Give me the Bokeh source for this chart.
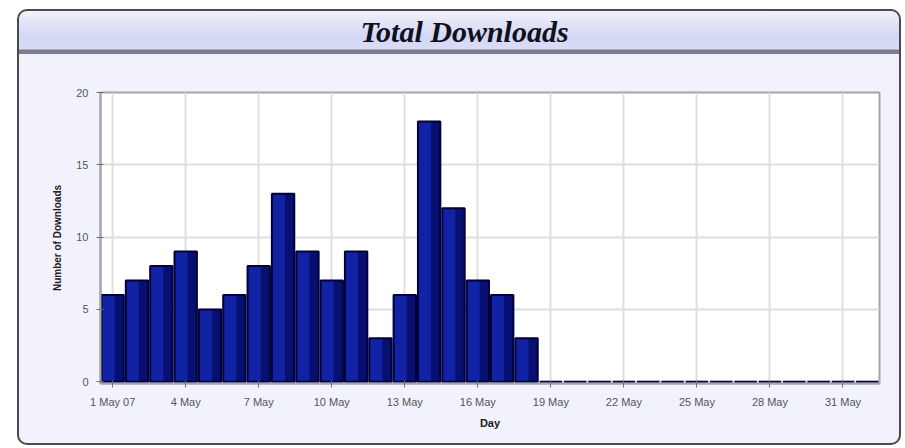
from bokeh.plotting import figure
from bokeh.models import FixedTicker, Range1d, Title, ColumnDataSource
from bokeh.transform import dodge
from bokeh.embed import file_html
from bokeh.resources import INLINE

# ---- data ----
days = list(range(1, 33))  # 1 May 07 .. 1 Jun 07
downloads = [6, 7, 8, 9, 5, 6, 8, 13, 9, 7, 9, 3, 6, 18, 12, 7, 6, 3,
             0, 0, 0, 0, 0, 0, 0, 0, 0, 0, 0, 0, 0, 0]
tick_days = [1, 4, 7, 10, 13, 16, 19, 22, 25, 28, 31]
tick_labels = ["1 May 07", "4 May", "7 May", "10 May", "13 May", "16 May",
               "19 May", "22 May", "25 May", "28 May", "31 May"]
y_ticks = [0, 5, 10, 15, 20]

source = ColumnDataSource(data=dict(day=days, downloads=downloads))

band = ("linear-gradient(to bottom, #f3f3fa 0px, #e2e4f7 12px, #d3d7f4 26px, "
        "#dadcf6 38px, #7e7e8a 39px, #7e7e8a 43px, #f2f2fc 43px, #f2f2fc 100%)")

p = figure(width=884, height=436, output_backend="svg", toolbar_location=None,
           x_range=Range1d(0.5, 32.5), y_range=Range1d(-0.12, 20),
           min_border_left=81, min_border_right=24, min_border_top=81,
           min_border_bottom=64,
           styles={"margin-left": "17px", "margin-top": "9px",
                   "border": "2px solid #4a4a4a", "border-radius": "10px",
                   "box-sizing": "border-box", "background": band,
                   "overflow": "hidden"})
p.border_fill_alpha = 0
p.background_fill_color = "white"
p.outline_line_color = "#a4a4a4"
p.outline_line_width = 2

# inner (frame-side) empty spacer first, then the title further out
spacer = Title(text=" ", text_font_size="1px", standoff=42)
p.add_layout(spacer, "above")
title = Title(text="Total Downloads", align="left", offset=260,
              text_font="Liberation Serif", text_font_style="bold italic",
              text_font_size="30px", text_color="#101020", standoff=0)
p.add_layout(title, "above")

# bars: body, darker right-hand shading, outline
p.vbar(x="day", top="downloads", bottom=0, width=0.92, source=source,
       fill_color="#1222a4", line_color=None)
p.vbar(x=dodge("day", 0.27, range=p.x_range), top="downloads", bottom=0,
       width=0.38, source=source, fill_color="#070f70", line_color=None)
p.vbar(x="day", top="downloads", bottom=0, width=0.92, source=source,
       fill_alpha=0, line_color="#00003a", line_width=2)

# axes
p.xaxis.ticker = FixedTicker(ticks=tick_days)
p.xaxis.major_label_overrides = {d: l for d, l in zip(tick_days, tick_labels)}
p.yaxis.ticker = FixedTicker(ticks=y_ticks)
for ax in (p.xaxis[0], p.yaxis[0]):
    ax.axis_line_color = "#a4a4a4"
    ax.axis_line_width = 2
    ax.major_tick_line_color = "#707070"
    ax.major_tick_in = 3
    ax.major_tick_out = 4
    ax.minor_tick_line_color = None
    ax.major_label_text_font = "Liberation Sans"
    ax.major_label_text_font_size = "11px"
    ax.major_label_text_color = "#555555"
    ax.axis_label_text_font = "Liberation Sans"
    ax.axis_label_text_font_style = "bold"
    ax.axis_label_text_color = "#202020"
p.xaxis.axis_label = "Day"
p.xaxis.axis_label_text_font_size = "11px"
p.xaxis.major_label_standoff = 8
p.xaxis.axis_label_standoff = 6
p.yaxis.axis_label = "Number of Downloads"
p.yaxis.axis_label_text_font_size = "10px"
p.yaxis.major_label_standoff = 8
p.yaxis.axis_label_standoff = 10

p.xgrid.ticker = FixedTicker(ticks=tick_days)
p.xgrid.grid_line_color = "#dedede"
p.xgrid.grid_line_width = 2
p.ygrid.grid_line_color = "#dedede"
p.ygrid.grid_line_width = 2

open("out.html", "w").write(file_html(p, INLINE))
